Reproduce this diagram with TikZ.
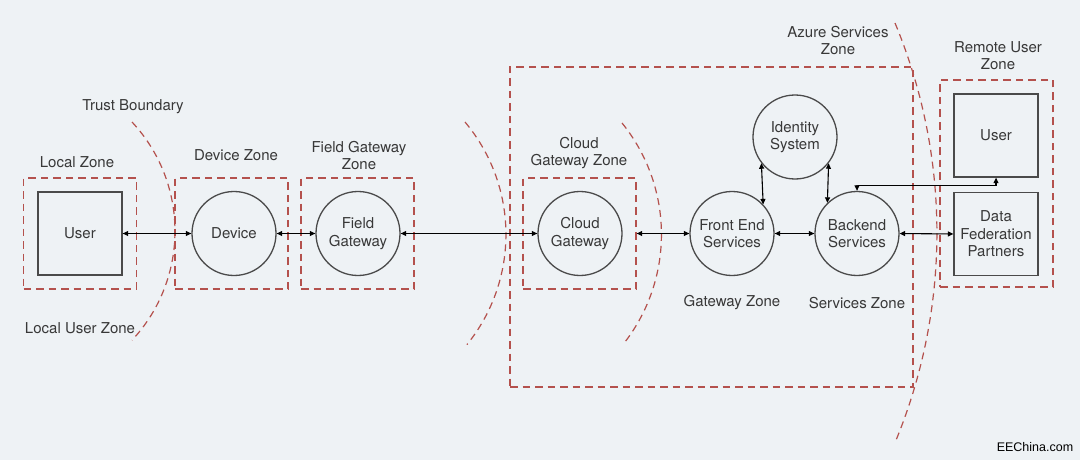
\documentclass[tikz,border=0pt]{standalone}
\usepackage{fontspec}
\setmainfont{TeX Gyre Heros}
\newfontfamily\wmfont{Liberation Sans}
\usetikzlibrary{arrows.meta}
\definecolor{bgc}{HTML}{EEF2F5}
\definecolor{zonered}{HTML}{B4514D}
\definecolor{shapegray}{HTML}{4A4A4A}
\definecolor{txtgray}{HTML}{383838}
\tikzset{
  zonebox/.style={draw=zonered, line width=1.3pt, dash pattern=on 7.5pt off 5pt, minimum width=113pt, minimum height=111pt, inner sep=0pt},
  zonearc/.style={draw=zonered, line width=1.2pt, dash pattern=on 7pt off 5pt},
  proc/.style={circle, draw=shapegray, line width=1.3pt, minimum size=84pt, inner sep=0pt, align=center, text=txtgray, font=\fontsize{15}{17.5}\selectfont},
  ent/.style={rectangle, draw=shapegray, line width=1.3pt, minimum width=84pt, minimum height=83pt, inner sep=0pt, align=center, text=txtgray, font=\fontsize{15}{17.5}\selectfont},
  lbl/.style={text=txtgray, align=center, inner sep=0pt, font=\fontsize{15}{17}\selectfont},
  arr/.style={draw=black, line width=1.1pt, {Triangle[length=5.5pt,width=5pt]}-{Triangle[length=5.5pt,width=5pt]}},
}
\begin{document}
\begin{tikzpicture}[x=1pt,y=-1pt]
\path[fill=bgc] (0,0) rectangle (1080,460);
\useasboundingbox (0,0) rectangle (1080,460);

% zones
\node[zonebox] (lz) at (80,233.5) {};
\node[zonebox] (dz) at (231.5,233.5) {};
\node[zonebox] (fgz) at (357.5,233.5) {};
\node[zonebox] (cgz) at (579.5,233.5) {};
\node[zonebox, minimum width=403pt, minimum height=320pt] (az) at (711.5,227) {};
\node[zonebox, minimum width=113pt, minimum height=207pt] (rz) at (996.5,183.5) {};

% trust boundaries (arcs)
\draw[zonearc] (132,122) arc[start angle=-43, end angle=43, radius=160];
\draw[zonearc] (465,122) arc[start angle=-40, end angle=39, radius=175];
\draw[zonearc] (622,123) arc[start angle=-39, end angle=38, radius=177];
\draw[zonearc] (895,23) arc[start angle=-22.6, end angle=22.5, radius=546];

% entities and processes
\node[ent] (user) at (80,233.5) {User};
\node[proc] (dev) at (234,233.5) {Device};
\node[proc] (fg) at (358,233.5) {Field\\Gateway};
\node[proc] (cg) at (580,233.5) {Cloud\\Gateway};
\node[proc] (fe) at (732,233.5) {Front End\\Services};
\node[proc] (id) at (795,137) {Identity\\System};
\node[proc] (be) at (857,233.5) {Backend\\Services};
\node[ent] (ru) at (996,135.5) {User};
\node[ent] (dfp) at (996,234) {Data\\Federation\\Partners};

% labels
\node[lbl] at (77,162) {Local Zone};
\node[lbl] at (133,107) {Trust Boundary};
\node[lbl] at (80,328) {Local User Zone};
\node[lbl] at (236,155) {Device Zone};
\node[lbl] at (359,155.5) {Field Gateway\\Zone};
\node[lbl] at (579,153.5) {Cloud\\Gateway Zone};
\node[lbl] at (732,303) {Gateway Zone};
\node[lbl] at (857,303) {Services Zone};
\node[lbl] at (838,41) {Azure Services\\Zone};
\node[lbl] at (998,55.5) {Remote User\\Zone};
\node[text=black, inner sep=0pt, font=\wmfont\fontsize{12.5}{14}\selectfont] at (1035,447) {EEChina.com};

% connectors
\draw[arr] (user.east) -- (dev.west);
\draw[arr] (dev.east) -- (fg.west);
\draw[arr] (fg.east) -- (cg.west);
\draw[arr] (cgz.east) -- (fe.west);
\draw[arr] (fe.east) -- (be.west);
\draw[arr] (fe.43) -- (id.218);
\draw[arr] (be.134) -- (id.322);
\draw[arr] (be.east) -- (dfp.west);
\draw[arr] (be.north) -- ++(0,-5) -| (ru.south);
\end{tikzpicture}
\end{document}
